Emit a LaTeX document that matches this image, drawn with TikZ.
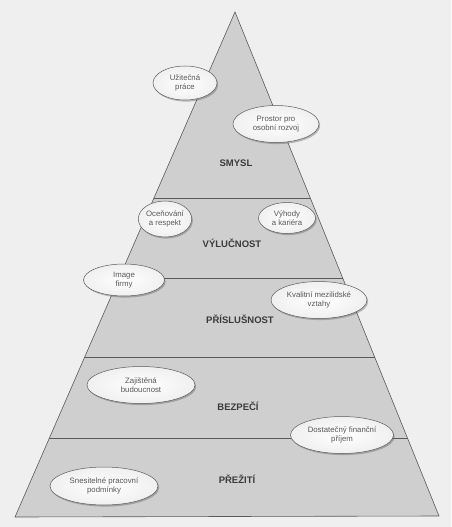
\documentclass[tikz,border=0pt]{standalone}
\usepackage{fontspec}
\setmainfont{Liberation Sans}
\usetikzlibrary{shapes.geometric,shadows}
\definecolor{paper}{HTML}{EFEFEF}
\definecolor{pyrfill}{HTML}{CFCFCF}
\definecolor{edge}{HTML}{5A5A5A}
\definecolor{ink}{HTML}{3A3A3A}
\begin{document}
\begin{tikzpicture}[x=1pt,y=-1pt,
  level/.style={font=\fontsize{9.5}{11}\selectfont\bfseries, text=ink},
  bubble/.style={ellipse, draw=edge, line width=0.5pt, inner sep=0pt,
    align=center, font=\fontsize{7.8}{9.4}\selectfont, text=ink!85,
    inner color=white, outer color=black!6,
    drop shadow={shadow xshift=1.2pt, shadow yshift=-1.6pt, opacity=0.35, fill=black!70}},
  divider/.style={draw=edge, line width=0.6pt}]
  % page
  \fill[paper] (0,0) rectangle (451,527);
  \useasboundingbox (0,0) rectangle (451,527);

  % pyramid corners
  \coordinate (apex) at (235,12);
  \coordinate (bl) at (15,517);
  \coordinate (br) at (439,516);

  \fill[pyrfill] (apex) -- (bl) -- (br) -- cycle;
  \begin{scope}
    \clip (apex) -- (bl) -- (br) -- cycle;
    \foreach \yy in {198,278,357,438}
      \draw[divider] (0,\yy) -- (451,\yy);
  \end{scope}
  \draw[divider, line join=miter] (apex) -- (bl) -- (br) -- cycle;

  % level labels
  \node[level] (smysl) at (236,163) {SMYSL};
  \node[level] (vylucnost) at (232,243) {VÝLUČNOST};
  \node[level] (prislusnost) at (240,319) {PŘÍSLUŠNOST};
  \node[level] (bezpeci) at (238,406) {BEZPEČÍ};
  \node[level] (preziti) at (237,479) {PŘEŽITÍ};

  % motivating factors
  \node[bubble, minimum width=64pt, minimum height=34pt] (prace) at (185,83) {Užitečná\\práce};
  \node[bubble, minimum width=86pt, minimum height=37pt] (rozvoj) at (276,124) {Prostor pro\\osobní rozvoj};
  \node[bubble, minimum width=52pt, minimum height=36pt] (respekt) at (165,219) {Oceňování\\a respekt};
  \node[bubble, minimum width=57pt, minimum height=31pt] (kariera) at (287,218) {Výhody\\a kariéra};
  \node[bubble, minimum width=81pt, minimum height=32pt] (image) at (124,280) {Image\\firmy};
  \node[bubble, minimum width=96pt, minimum height=37pt] (vztahy) at (319,300) {Kvalitní mezilidské\\vztahy};
  \node[bubble, minimum width=108pt, minimum height=37pt] (budoucnost) at (141,385) {Zajištěná\\budoucnost};
  \node[bubble, minimum width=103pt, minimum height=37pt] (prijem) at (342,435) {Dostatečný finanční\\příjem};
  \node[bubble, minimum width=108pt, minimum height=38pt] (podminky) at (104,486) {Snesitelné pracovní\\podmínky};
\end{tikzpicture}
\end{document}
